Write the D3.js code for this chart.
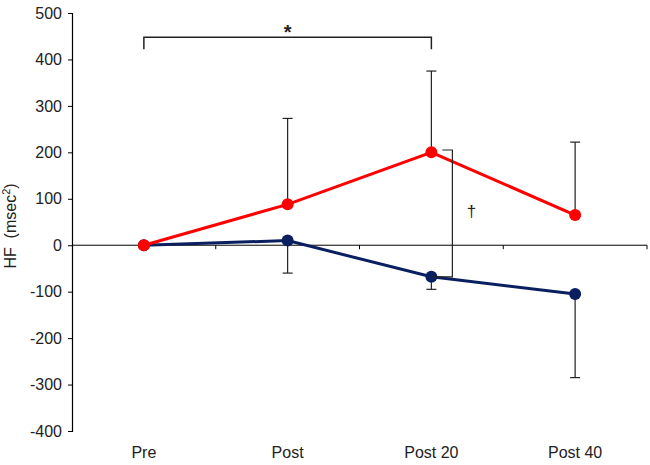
<!DOCTYPE html>
<html>
<head>
<meta charset="utf-8">
<script src="https://cdn.jsdelivr.net/npm/d3@7"></script>
<style>
  body { margin: 0; background: #fff; }
  svg { font-family: "Liberation Sans", Arial, sans-serif; }
</style>
</head>
<body>
<svg id="area" width="650" height="465"></svg>
<script>
const categories = ['Pre', 'Post', 'Post 20', 'Post 40'];
const redValues = [0, 88, 200, 65];
const redErr = [0, 185, 175, 157];
const blueValues = [0, 10, -68, -105];
const blueErr = [0, 70, 27, 180];
const yTicks = [-400, -300, -200, -100, 0, 100, 200, 300, 400, 500];

function drawChart() {
  const svg = d3.select('#area');
  const left = 72;
  const right = 647;
  const top = 13;
  const bottom = 431;

  const x = d3.scaleBand(categories, [left, right]).padding(0);
  const cx = (c) => x(c) + x.bandwidth() / 2;
  const y = d3.scaleLinear([-400, 500], [bottom, top]);

  const red = '#ff0000';
  const blue = '#0a1f5f';

  // y axis
  const yAxis = svg.append('g')
    .attr('transform', `translate(${left},0)`)
    .call(d3.axisLeft(y).tickValues(yTicks).tickSize(4).tickPadding(6).tickFormat((d) => String(d)));
  yAxis.select('.domain').attr('stroke', '#000').attr('stroke-width', 1.2);
  yAxis.selectAll('.tick line').attr('stroke', '#000');
  yAxis.selectAll('.tick text').style('font-size', '16px').attr('fill', '#222');

  // zero category axis
  const xAxis = svg.append('g')
    .attr('transform', `translate(0,${y(0)})`)
    .call(d3.axisBottom(x).tickSize(0).tickFormat(''));
  xAxis.select('.domain').attr('stroke', '#000').attr('d', `M${left},0H${right}`);
  xAxis.selectAll('.bound')
    .data(categories)
    .join('line')
    .attr('class', 'bound')
    .attr('x1', (d) => x(d) + x.bandwidth())
    .attr('x2', (d) => x(d) + x.bandwidth())
    .attr('y1', 0)
    .attr('y2', 4)
    .attr('stroke', '#000');

  // category labels
  svg.append('g').selectAll('text')
    .data(categories)
    .join('text')
    .attr('x', (d) => cx(d))
    .attr('y', 458)
    .attr('text-anchor', 'middle')
    .style('font-size', '16px')
    .attr('fill', '#222')
    .text((d) => d);

  // y label
  const yl = svg.append('text')
    .attr('transform', 'translate(16,226) rotate(-90)')
    .attr('text-anchor', 'middle')
    .style('font-size', '16px')
    .attr('fill', '#222')
    .attr('xml:space', 'preserve');
  yl.append('tspan').text('HF  (msec');
  yl.append('tspan').attr('dy', -6).style('font-size', '11px').text('2');
  yl.append('tspan').attr('dy', 6).text(')');

  // error bars
  const bars = [
    { values: redValues, err: redErr, dir: 1 },
    { values: blueValues, err: blueErr, dir: -1 },
  ];
  bars.forEach((s) => {
    const g = svg.append('g').attr('stroke', '#222').attr('stroke-width', 1.2);
    const pts = categories.map((c, i) => ({ c, v: s.values[i], e: s.values[i] + s.dir * s.err[i] }))
      .filter((d) => d.e !== d.v);
    g.selectAll('line.v').data(pts).join('line')
      .attr('class', 'v')
      .attr('x1', (d) => cx(d.c)).attr('x2', (d) => cx(d.c))
      .attr('y1', (d) => y(d.v)).attr('y2', (d) => y(d.e));
    g.selectAll('line.cap').data(pts).join('line')
      .attr('class', 'cap')
      .attr('x1', (d) => cx(d.c) - 5).attr('x2', (d) => cx(d.c) + 5)
      .attr('y1', (d) => y(d.e)).attr('y2', (d) => y(d.e));
  });

  // lines and points
  const series = [
    { values: blueValues, color: blue },
    { values: redValues, color: red },
  ];
  series.forEach((s) => {
    const line = d3.line().x((d, i) => cx(categories[i])).y((d) => y(d));
    svg.append('path')
      .attr('d', line(s.values))
      .attr('fill', 'none')
      .attr('stroke', s.color)
      .attr('stroke-width', 3);
    svg.append('g').selectAll('circle')
      .data(s.values)
      .join('circle')
      .attr('cx', (d, i) => cx(categories[i]))
      .attr('cy', (d) => y(d))
      .attr('r', 6)
      .attr('fill', s.color);
  });

  // significance bracket Pre vs Post 20
  const bY = y(448);
  const bEnd = y(422);
  const x1 = cx('Pre');
  const x2 = cx('Post 20');
  svg.append('path')
    .attr('d', `M${x1},${bEnd}V${bY}H${x2}V${bEnd}`)
    .attr('fill', 'none')
    .attr('stroke', '#222')
    .attr('stroke-width', 1.5);
  svg.append('text')
    .attr('x', (x1 + x2) / 2)
    .attr('y', bY + 2)
    .attr('text-anchor', 'middle')
    .style('font-size', '20px')
    .style('font-weight', 'bold')
    .attr('fill', '#222')
    .text('*');

  // dagger bracket between groups at Post 20
  const dx = cx('Post 20') + 21;
  svg.append('path')
    .attr('d', `M${dx - 10},${y(205)}H${dx}V${y(blueValues[2])}H${cx('Post 20')}`)
    .attr('fill', 'none')
    .attr('stroke', '#222')
    .attr('stroke-width', 1.2);
  svg.append('text')
    .attr('x', dx + 19)
    .attr('y', y(60))
    .attr('text-anchor', 'middle')
    .style('font-size', '17px')
    .attr('fill', '#222')
    .text('†');
}

drawChart();
</script>
</body>
</html>
